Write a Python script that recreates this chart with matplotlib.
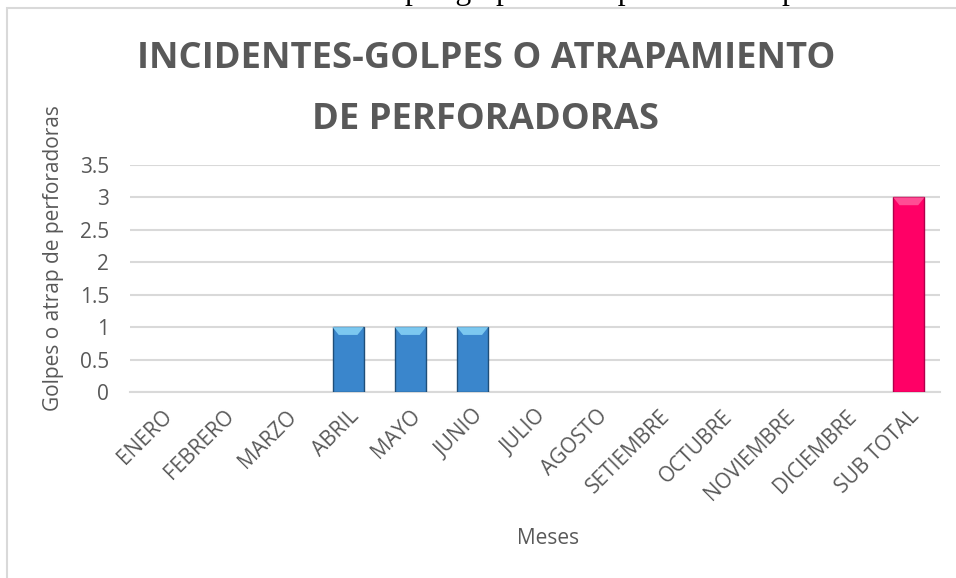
import matplotlib
matplotlib.use("Agg")
import matplotlib.pyplot as plt
from matplotlib.patches import Polygon, Rectangle
from matplotlib.transforms import ScaledTranslation

categories = ["ENERO", "FEBRERO", "MARZO", "ABRIL", "MAYO", "JUNIO", "JULIO",
              "AGOSTO", "SETIEMBRE", "OCTUBRE", "NOVIEMBRE", "DICIEMBRE", "SUB TOTAL"]
values = [0, 0, 0, 1, 1, 1, 0, 0, 0, 0, 0, 0, 3]
yticks = [0, 0.5, 1, 1.5, 2, 2.5, 3, 3.5]
ytick_labels = ["0", "0.5", "1", "1.5", "2", "2.5", "3", "3.5"]

blue = "#3A86CC"
blue_edge = "#1F4E79"
blue_top = "#7CC8F0"
pink = "#FF0066"
pink_edge = "#B0004A"
pink_top = "#FF4D94"
gray_txt = "#595959"

plt.rcParams['font.family'] = ['Open Sans', 'DejaVu Sans']

fig = plt.figure(figsize=(9.56, 5.78), dpi=100)
ax = fig.add_axes([130/956, 1-392/578, 810/956, (392-165)/578])

x = list(range(len(categories)))
colors = [pink if c == "SUB TOTAL" else blue for c in categories]
edges = [pink_edge if c == "SUB TOTAL" else blue_edge for c in categories]
tops = [pink_top if c == "SUB TOTAL" else blue_top for c in categories]
lws = [1.0 if v > 0 else 0.0 for v in values]
bars = ax.bar(x, values, width=0.5, color=colors, edgecolor=edges, linewidth=lws, zorder=3)

# bevel top
for b, tc in zip(bars, tops):
    h = b.get_height()
    if h <= 0:
        continue
    x0 = b.get_x(); w = b.get_width()
    dh = 0.12
    poly = Polygon([(x0, h), (x0 + w, h), (x0 + w*0.8, h - dh), (x0 + w*0.2, h - dh)],
                   closed=True, facecolor=tc, edgecolor='none', zorder=4)
    ax.add_patch(poly)

ax.set_xlim(-0.5, len(categories) - 0.5)
ax.set_ylim(0, 3.5)
ax.set_yticks(yticks)
ax.set_yticklabels(ytick_labels, fontsize=15, color=gray_txt)
ax.set_xticks(x)
ax.set_xticklabels(categories, rotation=45, ha='right', rotation_mode='anchor',
                   fontsize=15, color=gray_txt)
shift = ScaledTranslation(5/100, 0, fig.dpi_scale_trans)
for lbl in ax.get_xticklabels():
    lbl.set_transform(lbl.get_transform() + shift)
ax.tick_params(axis='both', length=0)
ax.tick_params(axis='y', pad=15)
ax.tick_params(axis='x', pad=10)
ax.grid(axis='y', color='#D9D9D9', linewidth=1.5, zorder=0)
for s in ['top', 'right', 'left']:
    ax.spines[s].set_visible(False)
ax.spines['bottom'].set_color('#D9D9D9')
ax.spines['bottom'].set_linewidth(1.5)

ax.set_ylabel("Golpes o atrap de perforadoras", fontsize=15, color=gray_txt)
ax.yaxis.set_label_coords(-66/810, (392-258)/227)
fig.text(548/956, 1-538/578, "Meses", ha='center', va='center', fontsize=15, color=gray_txt)

fig.text(486/956, 1-59/578, "INCIDENTES-GOLPES O ATRAPAMIENTO", ha='center', va='center',
         fontsize=26.2, fontweight='bold', color=gray_txt)
fig.text(486/956, 1-120/578, "DE PERFORADORAS", ha='center', va='center',
         fontsize=26.2, fontweight='bold', color=gray_txt)

# chart frame and clipped caption above (only the descenders show, as in the page crop)
fig.patches.append(Rectangle((7/956, -0.1), 1.0, 1 - 8/578 + 0.1, transform=fig.transFigure,
                             fill=False, edgecolor='#D9D9D9', linewidth=1.5))
caption = "Estadística de incidentes por golpes o atrapamiento de perforadoras"
prefix = "Estadística de incidentes "
middle = "por golpes o atrapamiento de "
r = fig.canvas.get_renderer()
def _w(s, fs):
    t = fig.text(0, 0, s, fontsize=fs, family='Liberation Serif')
    w = t.get_window_extent(r).width
    t.remove()
    return w
base = 20.0
fs = base * 377 / _w(middle, base)
x_left = 405 - _w(prefix, fs)
fig.text(x_left/956, 1 + 0.5/578, caption, ha='left', va='baseline', fontsize=fs,
         family='Liberation Serif', color='black')

fig.savefig("out.png", dpi=100)
